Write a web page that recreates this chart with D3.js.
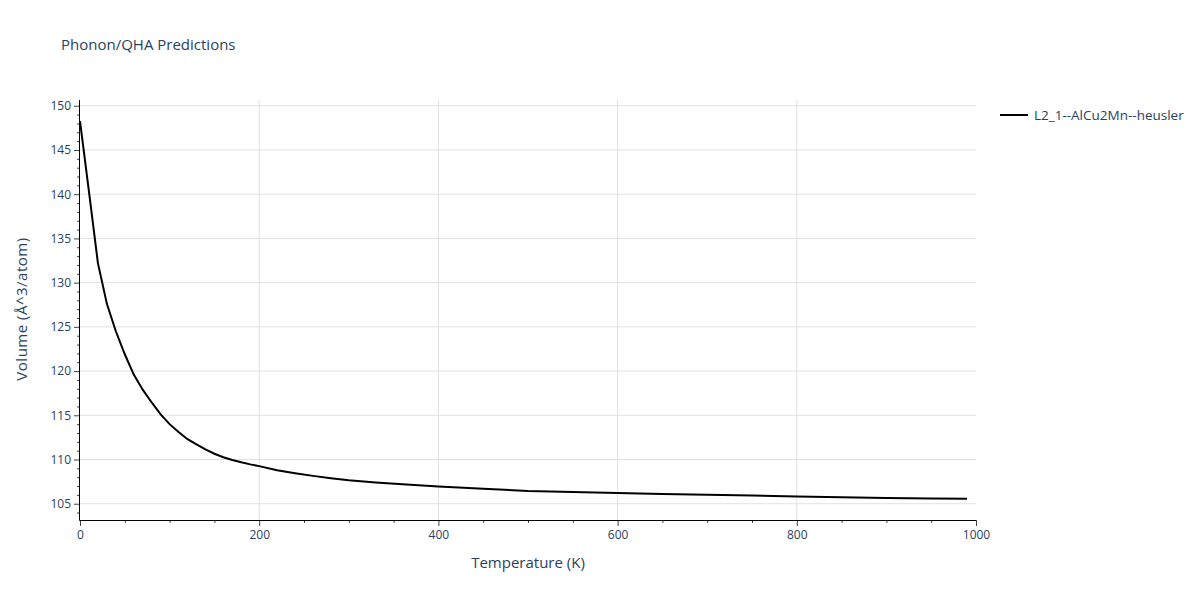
<!DOCTYPE html>
<html>
<head>
<meta charset="utf-8">
<script src="https://cdn.jsdelivr.net/npm/d3@7"></script>
<style>
body { margin: 0; background: #fff; }
text { font-family: "Open Sans", "Liberation Sans", sans-serif; fill: #2a3f5f; }
</style>
</head>
<body>
<script>
// temperatures (K) and volumes
var temps = [0, 10, 20, 30, 40, 50, 60, 70, 80, 90, 100, 110, 120, 130, 140, 150, 160, 170, 180, 190,
	200, 220, 240, 260, 280, 300, 330, 360, 400, 450, 500, 550, 600, 650, 700, 750, 800, 850, 900, 950, 990];
var volumes = [148.25, 140.3, 132.2, 127.6, 124.5, 121.9, 119.6, 117.9, 116.45, 115.1, 114.0, 113.1, 112.3, 111.7, 111.15, 110.65, 110.25, 109.95, 109.68, 109.45,
	109.25, 108.78, 108.45, 108.15, 107.88, 107.65, 107.4, 107.2, 106.95, 106.7, 106.45, 106.33, 106.22, 106.1, 106.02, 105.93, 105.82, 105.72, 105.66, 105.6, 105.55];
var seriesName = "L2_1--AlCu2Mn--heusler";
var xTicks = [0, 200, 400, 600, 800, 1000];
var yTicks = [105, 110, 115, 120, 125, 130, 135, 140, 145, 150];

var W = 1200, H = 600;
var margin = {top: 100, right: 224, bottom: 80, left: 80};
var width = W - margin.left - margin.right;
var height = H - margin.top - margin.bottom;

var svg = d3.select("body").append("svg")
	.attr("width", W)
	.attr("height", H);

var xScale = d3.scaleLinear().domain([0, 1000]).range([0, width]);
var yScale = d3.scaleLinear().domain([103.16, 150.65]).range([height, 0]);

var g = svg.append("g")
	.attr("transform", "translate(" + margin.left + "," + margin.top + ")");

// grid
g.selectAll(".gx").data(xTicks.slice(1, -1)).enter().append("line")
	.attr("x1", d => xScale(d)).attr("x2", d => xScale(d))
	.attr("y1", 0).attr("y2", height)
	.attr("stroke", "#e1e1e1").attr("stroke-width", 1);
g.selectAll(".gy").data(yTicks).enter().append("line")
	.attr("x1", 0).attr("x2", width)
	.attr("y1", d => yScale(d)).attr("y2", d => yScale(d))
	.attr("stroke", "#e1e1e1").attr("stroke-width", 1);

// minor ticks
var xMinor = d3.range(50, 1000, 50).filter(d => xTicks.indexOf(d) < 0);
var yMinor = d3.range(104, 151, 1).filter(d => yTicks.indexOf(d) < 0);

var xAxis = d3.axisBottom(xScale).tickValues(xTicks).tickSize(6).tickPadding(4).tickFormat(d3.format("d"));
var xAxisMinor = d3.axisBottom(xScale).tickValues(xMinor).tickSize(3).tickFormat("");
var yAxis = d3.axisLeft(yScale).tickValues(yTicks).tickSize(6).tickPadding(3);
var yAxisMinor = d3.axisLeft(yScale).tickValues(yMinor).tickSize(3).tickFormat("");

function styleAxis(sel) {
	sel.select(".domain").remove();
	sel.selectAll(".tick line").attr("stroke", "#444");
	sel.selectAll(".tick text").style("font-size", "12px").attr("fill", "#2a3f5f")
		.style("font-family", "'Open Sans', 'Liberation Sans', sans-serif");
}

g.append("g").attr("transform", "translate(0," + height + ")").call(xAxisMinor).call(styleAxis);
g.append("g").attr("transform", "translate(0," + height + ")").call(xAxis).call(styleAxis);
g.append("g").call(yAxisMinor).call(styleAxis);
g.append("g").call(yAxis).call(styleAxis);

// axis lines
g.append("line").attr("x1", -0.5).attr("x2", -0.5).attr("y1", 0).attr("y2", height + 0.5)
	.attr("stroke", "#000").attr("stroke-width", 1);
g.append("line").attr("x1", -0.5).attr("x2", width).attr("y1", height + 0.5).attr("y2", height + 0.5)
	.attr("stroke", "#000").attr("stroke-width", 1);

// curve
var line = d3.line()
	.x(function(d, i) { return xScale(temps[i]); })
	.y(function(d) { return yScale(d); });

g.append("path")
	.datum(volumes)
	.attr("d", line)
	.attr("fill", "none")
	.attr("stroke", "#000")
	.attr("stroke-width", 2);

// titles
svg.append("text")
	.attr("x", 61).attr("y", 50)
	.style("font-size", "15px")
	.text("Phonon/QHA Predictions");

svg.append("text")
	.attr("x", 528).attr("y", 568)
	.attr("text-anchor", "middle")
	.style("font-size", "15px")
	.text("Temperature (K)");

svg.append("text")
	.attr("transform", "translate(27,309) rotate(-90)")
	.attr("text-anchor", "middle")
	.style("font-size", "15px")
	.style("letter-spacing", "0.5px")
	.text("Volume (Å^3/atom)");

// legend
var legend = svg.append("g").attr("transform", "translate(1000,115)");
legend.append("line")
	.attr("x1", 0).attr("x2", 28).attr("y1", 0).attr("y2", 0)
	.attr("stroke", "#000").attr("stroke-width", 2);
legend.append("text")
	.attr("x", 34).attr("y", 4.5)
	.style("font-size", "13.5px")
	.text(seriesName);
</script>
</body>
</html>
